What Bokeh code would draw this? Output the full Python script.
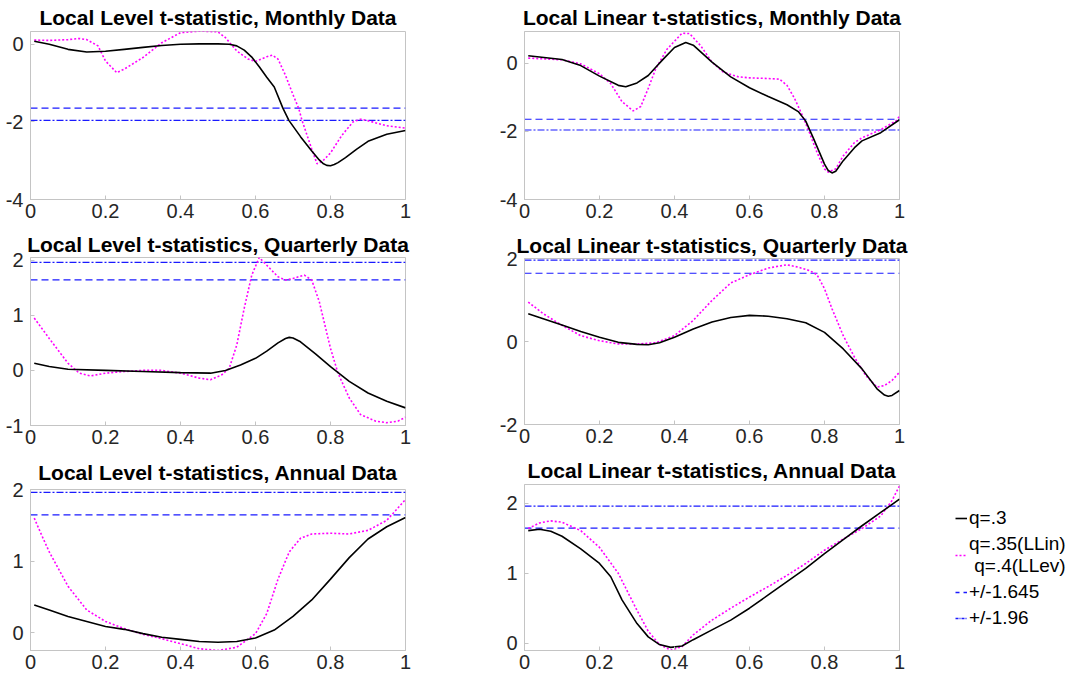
from bokeh.plotting import figure
from bokeh.layouts import column, row
from bokeh.models import Range1d, FixedTicker, Legend, LegendItem
from bokeh.embed import file_html
from bokeh.resources import INLINE

# ---------------- data ----------------
x_lim = [0, 1]
x_ticks = [0, 0.2, 0.4, 0.6, 0.8, 1]
x_tick_labels = ["0", "0.2", "0.4", "0.6", "0.8", "1"]
crit_1645 = 1.645
crit_196 = 1.96
crit_sign = [-1, -1, 1, 1, 1, 1]

# Local Level, Monthly
llm_x_q3 = [0.01, 0.05, 0.1, 0.15, 0.2, 0.25, 0.3, 0.35, 0.4, 0.45, 0.5, 0.53, 0.55, 0.57, 0.59, 0.61, 0.63, 0.65,
            0.673, 0.689, 0.72, 0.75, 0.77, 0.78, 0.79, 0.8, 0.81, 0.82, 0.84, 0.87, 0.9, 0.95, 1.0]
llm_y_q3 = [0.08, 0.0, -0.13, -0.2, -0.18, -0.13, -0.08, -0.03, 0.0, 0.01, 0.01, 0.0, -0.04, -0.15, -0.33, -0.58,
            -0.85, -1.1, -1.645, -1.96, -2.38, -2.75, -2.98, -3.07, -3.12, -3.13, -3.1, -3.05, -2.92, -2.7, -2.5,
            -2.32, -2.22]
llm_x_q4 = [0.01, 0.05, 0.1, 0.13, 0.15, 0.18, 0.2, 0.23, 0.25, 0.3, 0.35, 0.4, 0.45, 0.5, 0.52, 0.55, 0.58, 0.6,
            0.63, 0.645, 0.66, 0.68, 0.7, 0.715, 0.724, 0.75, 0.764, 0.78, 0.8, 0.83, 0.86, 0.88, 0.9, 0.95, 1.0]
llm_y_q4 = [0.11, 0.1, 0.12, 0.15, 0.12, -0.04, -0.43, -0.73, -0.64, -0.34, 0.04, 0.3, 0.34, 0.32, 0.17, -0.17, -0.38,
            -0.44, -0.32, -0.28, -0.38, -0.8, -1.3, -1.645, -1.96, -2.7, -3.08, -3.0, -2.8, -2.35, -2.0, -1.93, -1.97,
            -2.1, -2.16]

# Local Linear, Monthly
lnm_x_q3 = [0.01, 0.1, 0.15, 0.2, 0.25, 0.27, 0.3, 0.33, 0.35, 0.37, 0.4, 0.43, 0.45, 0.5, 0.55, 0.6, 0.65, 0.7,
            0.73, 0.75, 0.77, 0.8, 0.81, 0.82, 0.83, 0.85, 0.88, 0.9, 0.95, 1.0]
lnm_y_q3 = [0.22, 0.11, -0.07, -0.38, -0.65, -0.69, -0.58, -0.36, -0.12, 0.12, 0.46, 0.61, 0.53, 0.03, -0.4, -0.72,
            -0.98, -1.22, -1.42, -1.7, -2.19, -2.96, -3.15, -3.22, -3.17, -2.86, -2.48, -2.28, -2.04, -1.66]
lnm_x_q35 = [0.01, 0.1, 0.15, 0.2, 0.23, 0.26, 0.29, 0.31, 0.33, 0.35, 0.38, 0.42, 0.44, 0.47, 0.5, 0.53, 0.57, 0.6,
             0.65, 0.68, 0.7, 0.72, 0.74, 0.76, 0.78, 0.8, 0.81, 0.83, 0.85, 0.88, 0.9, 0.95, 0.99, 1.0]
lnm_y_q35 = [0.15, 0.1, -0.02, -0.31, -0.6, -1.13, -1.4, -1.27, -0.74, -0.16, 0.41, 0.88, 0.87, 0.51, 0.03, -0.26,
             -0.4, -0.43, -0.45, -0.47, -0.65, -1.03, -1.51, -2.04, -2.62, -3.1, -3.2, -3.1, -2.72, -2.33, -2.19,
             -1.95, -1.7, -1.56]

# Local Level, Quarterly
llq_x_q3 = [0.01, 0.05, 0.1, 0.2, 0.3, 0.4, 0.48, 0.52, 0.56, 0.6, 0.63, 0.66, 0.68, 0.69, 0.7, 0.72, 0.74, 0.76,
            0.8, 0.85, 0.9, 0.95, 1.0]
llq_y_q3 = [0.13, 0.07, 0.02, 0.0, -0.02, -0.04, -0.05, 0.0, 0.1, 0.22, 0.35, 0.5, 0.58, 0.6, 0.59, 0.52, 0.41, 0.3,
            0.07, -0.2, -0.41, -0.56, -0.68]
llq_x_q4 = [0.01, 0.05, 0.1, 0.13, 0.16, 0.2, 0.25, 0.3, 0.35, 0.4, 0.45, 0.48, 0.51, 0.53, 0.55, 0.57, 0.59, 0.61,
            0.63, 0.66, 0.68, 0.7, 0.73, 0.75, 0.77, 0.8, 0.82, 0.85, 0.88, 0.92, 0.95, 0.98, 1.0]
llq_y_q4 = [0.95, 0.58, 0.13, -0.05, -0.1, -0.05, -0.02, 0.0, 0.0, -0.05, -0.14, -0.17, -0.08, 0.04, 0.46, 1.13,
            1.73, 2.05, 1.91, 1.7, 1.64, 1.67, 1.73, 1.64, 1.25, 0.4, -0.05, -0.5, -0.8, -0.92, -0.95, -0.92, -0.85]

# Local Linear, Quarterly
lnq_x_q3 = [0.01, 0.05, 0.1, 0.15, 0.2, 0.25, 0.3, 0.33, 0.36, 0.4, 0.45, 0.5, 0.55, 0.6, 0.65, 0.7, 0.75, 0.8,
            0.85, 0.9, 0.94, 0.96, 0.97, 0.98, 1.0]
lnq_y_q3 = [0.67, 0.55, 0.4, 0.24, 0.1, -0.02, -0.07, -0.08, -0.03, 0.1, 0.3, 0.47, 0.58, 0.63, 0.61, 0.55, 0.45,
            0.22, -0.18, -0.66, -1.14, -1.29, -1.32, -1.3, -1.18]
lnq_x_q35 = [0.01, 0.05, 0.1, 0.15, 0.2, 0.25, 0.3, 0.35, 0.4, 0.45, 0.5, 0.55, 0.6, 0.65, 0.7, 0.73, 0.76, 0.78,
             0.8, 0.82, 0.85, 0.88, 0.91, 0.94, 0.96, 0.98, 1.0]
lnq_y_q35 = [0.95, 0.67, 0.39, 0.14, 0.02, -0.06, -0.06, -0.03, 0.14, 0.51, 0.99, 1.41, 1.61, 1.77, 1.85, 1.79,
             1.71, 1.61, 1.27, 0.79, 0.14, -0.38, -0.82, -1.1, -1.06, -0.94, -0.74]

# Local Level, Annual
lla_x_q3 = [0.01, 0.05, 0.1, 0.15, 0.2, 0.25, 0.3, 0.35, 0.4, 0.45, 0.5, 0.55, 0.6, 0.65, 0.7, 0.75, 0.8, 0.85,
            0.9, 0.95, 1.0]
lla_y_q3 = [0.39, 0.32, 0.23, 0.16, 0.09, 0.05, -0.01, -0.06, -0.09, -0.12, -0.13, -0.12, -0.07, 0.04, 0.23, 0.46,
            0.75, 1.05, 1.31, 1.48, 1.61]
lla_x_q4 = [0.01, 0.03, 0.05, 0.1, 0.15, 0.2, 0.25, 0.3, 0.35, 0.4, 0.45, 0.5, 0.55, 0.6, 0.63, 0.66, 0.69, 0.72,
            0.75, 0.8, 0.85, 0.9, 0.95, 1.0]
lla_y_q4 = [1.6, 1.36, 1.13, 0.65, 0.32, 0.16, 0.06, -0.02, -0.08, -0.15, -0.22, -0.245, -0.2, -0.01, 0.27, 0.75,
            1.13, 1.32, 1.38, 1.39, 1.38, 1.43, 1.57, 1.86]

# Local Linear, Annual
lna_x_q3 = [0.01, 0.04, 0.07, 0.1, 0.15, 0.2, 0.23, 0.26, 0.3, 0.33, 0.36, 0.39, 0.42, 0.45, 0.5, 0.55, 0.6, 0.65,
            0.7, 0.75, 0.8, 0.85, 0.9, 0.95, 1.0]
lna_y_q3 = [1.61, 1.63, 1.6, 1.53, 1.35, 1.14, 0.95, 0.62, 0.28, 0.09, -0.02, -0.06, -0.04, 0.05, 0.19, 0.33, 0.5,
            0.69, 0.88, 1.07, 1.28, 1.48, 1.68, 1.87, 2.06]
lna_x_q35 = [0.01, 0.04, 0.07, 0.1, 0.15, 0.2, 0.25, 0.3, 0.33, 0.36, 0.39, 0.42, 0.45, 0.5, 0.55, 0.6, 0.65, 0.7,
             0.75, 0.8, 0.85, 0.9, 0.95, 0.98, 1.0]
lna_y_q35 = [1.64, 1.72, 1.75, 1.73, 1.61, 1.37, 1.0, 0.47, 0.17, -0.02, -0.1, -0.05, 0.12, 0.33, 0.5, 0.66, 0.81,
             0.97, 1.14, 1.33, 1.49, 1.64, 1.82, 2.04, 2.25]

titles = ["Local Level t-statistic, Monthly Data", "Local Linear t-statistics, Monthly Data",
          "Local Level t-statistics, Quarterly Data", "Local Linear t-statistics, Quarterly Data",
          "Local Level t-statistics, Annual Data", "Local Linear t-statistics, Annual Data"]
y_limits = [(-4, 0.33), (-4, 0.93), (-1, 2.05), (-2, 2.0), (-0.245, 2.0), (-0.105, 2.27)]
y_ticks = [[-4, -2, 0], [-4, -2, 0], [-1, 0, 1, 2], [-2, 0, 2], [0, 1, 2], [0, 1, 2]]
y_tick_labels = [["-4", "-2", "0"], ["-4", "-2", "0"], ["-1", "0", "1", "2"], ["-2", "0", "2"],
                 ["0", "1", "2"], ["0", "1", "2"]]
legend_labels = ["q=.3", "q=.35(LLin)\n q=.4(LLev)", "+/-1.645", "+/-1.96"]

series = [(llm_x_q3, llm_y_q3, llm_x_q4, llm_y_q4), (lnm_x_q3, lnm_y_q3, lnm_x_q35, lnm_y_q35),
          (llq_x_q3, llq_y_q3, llq_x_q4, llq_y_q4), (lnq_x_q3, lnq_y_q3, lnq_x_q35, lnq_y_q35),
          (lla_x_q3, lla_y_q3, lla_x_q4, lla_y_q4), (lna_x_q3, lna_y_q3, lna_x_q35, lna_y_q35)]

# ---------------- style / layout ----------------
FONT = "Liberation Sans"
AX_COLOR = "#c4c4c4"
LBL_COLOR = "#262626"
BLUE = "#1a1aff"
MAGENTA = "#ff00ff"
DASH = "7 4"
DASHDOT = "7 2 2 2"

# (width, height, left, right, top, bottom, title standoff) per panel
geoms = [(480, 229, 30, 75, 31, 30, 5), (450, 229, 44, 31, 31, 30, 5),
         (480, 224, 30, 75, 28, 28, 3), (450, 224, 44, 31, 29, 29, 3),
         (480, 228, 30, 75, 36, 31, 11), (450, 228, 44, 31, 31, 31, 5)]

figs = []
for i in range(6):
    w, h, bl, br, bt, bb, so = geoms[i]
    p = figure(width=w, height=h, output_backend="svg", toolbar_location=None,
               x_range=Range1d(*x_lim), y_range=Range1d(*y_limits[i]),
               min_border_left=bl, min_border_right=br, min_border_top=bt, min_border_bottom=bb)
    p.title.text = titles[i]
    p.title.text_font = FONT
    p.title.text_font_size = "21px"
    p.title.text_font_style = "bold"
    p.title.text_color = "black"
    p.title.align = "center"
    p.title.standoff = so
    p.title.offset = 0
    p.grid.visible = False
    p.outline_line_color = AX_COLOR
    p.outline_line_width = 1
    p.background_fill_color = "white"
    p.border_fill_color = "white"
    for ax in (p.xaxis[0], p.yaxis[0]):
        ax.axis_line_color = AX_COLOR
        ax.major_tick_line_color = AX_COLOR
        ax.major_tick_in = 4
        ax.major_tick_out = 0
        ax.minor_tick_line_color = None
        ax.major_label_text_font = FONT
        ax.major_label_text_font_size = "20px"
        ax.major_label_text_color = LBL_COLOR
    p.xaxis.ticker = FixedTicker(ticks=x_ticks)
    p.xaxis.major_label_overrides = {t: s for t, s in zip(x_ticks, x_tick_labels)}
    p.xaxis.major_label_standoff = 4
    p.yaxis.ticker = FixedTicker(ticks=y_ticks[i])
    p.yaxis.major_label_overrides = {t: s for t, s in zip(y_ticks[i], y_tick_labels[i])}
    p.yaxis.major_label_standoff = 7

    xa, ya, xb, yb = series[i]
    s = crit_sign[i]
    p.line(x_lim, [s * crit_1645, s * crit_1645], line_color=BLUE, line_width=1.2, line_dash=DASH)
    p.line(x_lim, [s * crit_196, s * crit_196], line_color=BLUE, line_width=1.2, line_dash=DASHDOT)
    p.line(xb, yb, line_color=MAGENTA, line_width=1.6, line_dash="2 2")
    p.line(xa, ya, line_color="black", line_width=1.6)
    figs.append(p)

# legend panel: hidden copies of the last panel's lines provide the legend samples
lg = figure(width=153, height=681, output_backend="svg", toolbar_location=None,
            x_range=Range1d(*x_lim), y_range=Range1d(*y_limits[5]),
            min_border_left=0, min_border_right=0, min_border_top=0, min_border_bottom=0)
lg.axis.visible = False
lg.grid.visible = False
lg.outline_line_color = None
lr_a = lg.line(lna_x_q3, lna_y_q3, line_color="black", line_width=1.6, visible=False)
lr_b = lg.line(lna_x_q35, lna_y_q35, line_color=MAGENTA, line_width=1.6, line_dash="2 2", visible=False)
lr_c = lg.line(x_lim, [crit_1645, crit_1645], line_color=BLUE, line_width=1.4, line_dash="4 4", visible=False)
lr_d = lg.line(x_lim, [crit_196, crit_196], line_color=BLUE, line_width=1.4, line_dash="3 1 1 1", visible=False)
legend = Legend(items=[LegendItem(label=legend_labels[0], renderers=[lr_a]),
                       LegendItem(label=legend_labels[1], renderers=[lr_b]),
                       LegendItem(label=legend_labels[2], renderers=[lr_c]),
                       LegendItem(label=legend_labels[3], renderers=[lr_d])],
                location=(25, 52), border_line_color=None, background_fill_alpha=0,
                inactive_fill_alpha=0,
                label_text_font=FONT, label_text_font_size="19px", label_text_color="black",
                glyph_width=12, glyph_height=20, label_standoff=2, spacing=4, padding=0, margin=0)
lg.add_layout(legend, "center")

layout = row(column(figs[0], figs[2], figs[4]), column(figs[1], figs[3], figs[5]), lg)

open("out.html", "w").write(file_html(layout, INLINE))
